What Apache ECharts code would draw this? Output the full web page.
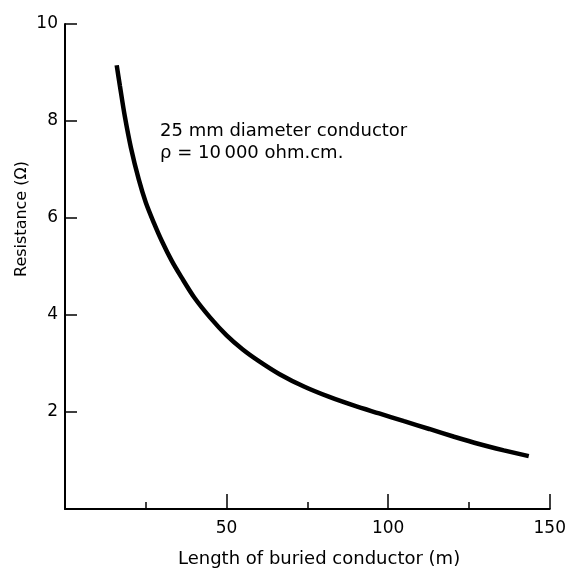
<!DOCTYPE html>
<html>
<head>
<meta charset="utf-8">
<script src="https://cdn.jsdelivr.net/npm/echarts@6/dist/echarts.min.js"></script>
<style>
html,body{margin:0;padding:0;background:#fff;}
#chart{width:569px;height:574px;}
</style>
</head>
<body>
<div id="chart"></div>
<script>
var lengths = [16.0, 17.0, 18.5, 20.4, 22.8, 25.0, 27.5, 30.0, 33.0, 36.0, 40.0, 45.0, 50.0, 55.0, 60.0, 66.4, 74.1, 81.8, 89.5, 97.2, 104.9, 112.7, 120.4, 128.1, 135.8, 143.5];
var resistance = [9.15, 8.72, 8.10, 7.45, 6.80, 6.32, 5.90, 5.52, 5.12, 4.78, 4.36, 3.94, 3.58, 3.29, 3.05, 2.78, 2.52, 2.31, 2.13, 1.97, 1.81, 1.65, 1.49, 1.34, 1.21, 1.09];
var xTickLabels = ['50', '100', '150'];
var yTickLabels = ['2', '4', '6', '8', '10'];
var xTitle = 'Length of buried conductor (m)';
var yTitle = 'Resistance (\u03A9)';
var noteLines = ['25 mm diameter conductor', '\u03C1 = 10\u2009000 ohm.cm.'];

var FONT = 'DejaVu Sans';
var chart = echarts.init(document.getElementById('chart'), null, {renderer: 'canvas'});
var pts = lengths.map(function (v, i) { return [v, resistance[i]]; });

chart.setOption({
  backgroundColor: '#fff',
  animation: false,
  grid: {left: 65, right: 18, top: 24, bottom: 65, containLabel: false},
  xAxis: {
    type: 'value', min: 0, max: 150, interval: 50,
    axisLine: {show: true, lineStyle: {color: '#000', width: 2}},
    axisTick: {show: true, inside: true, length: 15, lineStyle: {color: '#000', width: 1.5}},
    minorTick: {show: true, splitNumber: 2, length: 7, lineStyle: {color: '#000', width: 1.5}},
    splitLine: {show: false},
    axisLabel: {
      margin: 11, color: '#000', fontFamily: FONT, fontSize: 17,
      formatter: function (v) { return xTickLabels.indexOf(String(v)) >= 0 ? String(v) : ''; }
    }
  },
  yAxis: {
    type: 'value', min: 0, max: 10, interval: 2,
    axisLine: {show: true, lineStyle: {color: '#000', width: 2}},
    axisTick: {show: true, inside: true, length: 12, lineStyle: {color: '#000', width: 1.5}},
    splitLine: {show: false},
    axisLabel: {
      margin: 7, color: '#000', fontFamily: FONT, fontSize: 17,
      formatter: function (v) { return yTickLabels.indexOf(String(v)) >= 0 ? String(v) : ''; }
    }
  },
  graphic: [
    {type: 'text', left: 178, top: 550, style: {text: xTitle, fill: '#000', font: '18px "DejaVu Sans"'}},
    {type: 'text', x: 14, y: 277, rotation: Math.PI / 2, style: {text: yTitle, fill: '#000', font: '16px "DejaVu Sans"', textVerticalAlign: 'top'}},
    {type: 'text', left: 160, top: 120, style: {text: noteLines.join('\n'), fill: '#000', font: '18px "DejaVu Sans"', lineHeight: 22}}
  ],
  series: [{
    type: 'line', data: pts, showSymbol: false, smooth: 0.3,
    lineStyle: {color: '#000', width: 4.5}
  }]
});
</script>
</body>
</html>
